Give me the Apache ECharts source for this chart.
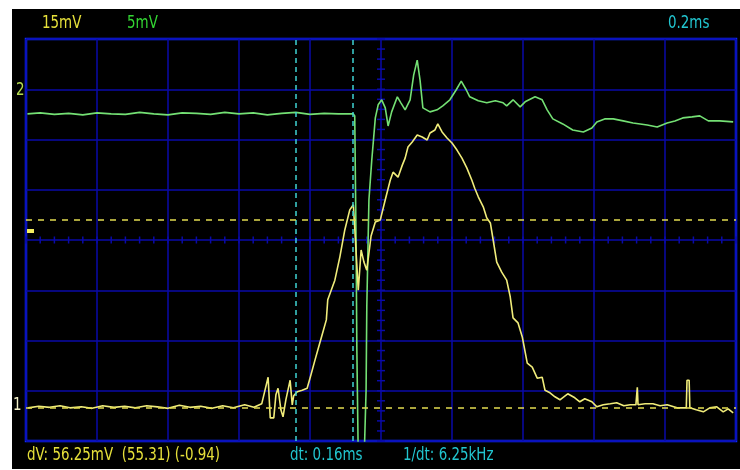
<!DOCTYPE html>
<html>
<head>
<meta charset="utf-8">
<script src="https://cdn.jsdelivr.net/npm/echarts@6/dist/echarts.min.js"></script>
<style>
    html, body {margin: 0; padding: 0; background: #fff;}
    #scope {width: 740px; height: 470px;}
</style>
</head>
<body>
<div id="scope"></div>
<script>
// units: x in divisions (0.2ms/div), y in divisions (ch1 15mV/div, ch2 5mV/div)
let ch1Time = [0.03, 0.18, 0.33, 0.48, 0.62, 0.78, 0.93, 1.08, 1.24, 1.39, 1.54, 1.70, 1.85, 2.00, 2.16, 2.31, 2.46, 2.62, 2.77, 2.92, 3.08, 3.21, 3.32,
    3.41, 3.44, 3.49, 3.52, 3.55, 3.59, 3.62, 3.66, 3.72, 3.75, 3.77, 3.82, 3.89, 3.96, 4.00, 4.07, 4.11, 4.17, 4.23, 4.25, 4.35, 4.42, 4.49, 4.56, 4.61,
    4.63, 4.68, 4.72, 4.76, 4.80, 4.86, 4.92, 4.99, 5.06, 5.13, 5.17, 5.24, 5.30, 5.34, 5.38, 5.44, 5.51, 5.58, 5.65, 5.69, 5.76, 5.80, 5.86, 5.93,
    6.00, 6.07, 6.14, 6.21, 6.28, 6.32, 6.37, 6.44, 6.49, 6.54, 6.58, 6.63, 6.70, 6.77, 6.82, 6.86, 6.93, 6.99, 7.06, 7.13, 7.20, 7.27, 7.31, 7.38,
    7.45, 7.52, 7.63, 7.73, 7.80, 7.87, 7.97, 8.04, 8.13, 8.23, 8.32, 8.42, 8.51, 8.59, 8.61, 8.62, 8.72, 8.83, 8.93, 9.03, 9.17, 9.30, 9.31, 9.34,
    9.35, 9.44, 9.54, 9.63, 9.73, 9.82, 9.89, 9.96];
let ch1Value = [0.66, 0.69, 0.67, 0.70, 0.66, 0.68, 0.65, 0.70, 0.67, 0.69, 0.66, 0.70, 0.68, 0.65, 0.71, 0.67, 0.69, 0.65, 0.70, 0.66, 0.72, 0.67, 0.74,
    1.27, 0.46, 0.46, 0.92, 1.05, 0.62, 0.48, 0.82, 1.21, 0.72, 0.90, 0.98, 1.01, 1.05, 1.25, 1.61, 1.81, 2.11, 2.41, 2.81, 3.20, 3.66, 4.20, 4.60, 4.70,
    4.24, 3.00, 3.80, 3.56, 3.40, 4.08, 4.36, 4.40, 4.80, 5.19, 5.35, 5.25, 5.49, 5.63, 5.85, 5.95, 6.09, 6.05, 5.99, 6.13, 6.19, 6.31, 6.15, 6.03,
    5.93, 5.79, 5.63, 5.43, 5.19, 5.03, 4.86, 4.66, 4.44, 4.34, 4.00, 3.56, 3.36, 3.20, 2.87, 2.45, 2.35, 2.07, 1.55, 1.47, 1.25, 1.27, 1.01, 0.96,
    0.88, 0.82, 0.94, 0.86, 0.78, 0.84, 0.78, 0.68, 0.72, 0.74, 0.76, 0.70, 0.72, 0.72, 1.07, 0.72, 0.74, 0.74, 0.70, 0.72, 0.66, 0.66, 1.21, 1.21,
    0.66, 0.62, 0.58, 0.66, 0.68, 0.58, 0.64, 0.56];

let ch2Time = [0.02, 0.20, 0.40, 0.60, 0.80, 1.00, 1.20, 1.40, 1.60, 1.80, 2.00, 2.20, 2.40, 2.60, 2.80, 3.00, 3.20, 3.40, 3.60, 3.80, 4.00, 4.20, 4.40, 4.61,
    4.63, 4.65, 4.66, 4.68, 4.76, 4.77, 4.79, 4.80, 4.83, 4.87, 4.92, 4.96, 5.01, 5.06, 5.10, 5.15, 5.23, 5.28, 5.34, 5.41, 5.46, 5.51, 5.55, 5.59,
    5.69, 5.79, 5.87, 5.97, 6.06, 6.13, 6.20, 6.25, 6.37, 6.49, 6.61, 6.72, 6.77, 6.86, 6.96, 7.03, 7.17, 7.27, 7.34, 7.42, 7.56, 7.70, 7.85, 7.97,
    8.04, 8.15, 8.27, 8.41, 8.55, 8.75, 8.89, 9.03, 9.14, 9.25, 9.38, 9.49, 9.61, 9.77, 9.96];
let ch2Value = [6.51, 6.53, 6.50, 6.52, 6.49, 6.53, 6.51, 6.50, 6.54, 6.51, 6.49, 6.53, 6.52, 6.50, 6.54, 6.51, 6.53, 6.49, 6.52, 6.54, 6.50, 6.52, 6.51, 6.51,
    6.47, 3.80, 1.81, -0.38, -0.38, 0.02, 1.01, 2.67, 4.80, 5.59, 6.43, 6.69, 6.79, 6.63, 6.27, 6.55, 6.85, 6.73, 6.59, 6.79, 7.28, 7.58, 7.18, 6.63,
    6.55, 6.59, 6.67, 6.79, 6.99, 7.16, 6.99, 6.85, 6.77, 6.73, 6.77, 6.73, 6.67, 6.79, 6.65, 6.75, 6.85, 6.79, 6.59, 6.41, 6.31, 6.19, 6.15, 6.23,
    6.35, 6.41, 6.41, 6.37, 6.33, 6.29, 6.25, 6.33, 6.37, 6.43, 6.45, 6.47, 6.37, 6.37, 6.35];

let timeCursors = [3.80, 4.60];   // dt 0.16ms
let voltCursors = [4.41, 0.66];   // dV 56.25mV

let topLabels = ['15mV', '5mV', '0.2ms'];
let bottomLabels = ['dV: 56.25mV  (55.31) (-0.94)', 'dt: 0.16ms', '1/dt: 6.25kHz'];

let font = '"DejaVu Sans", sans-serif';
let myChart = echarts.init(document.getElementById('scope'));

function pairs(xs, ys){
    return xs.map((x, i) => [x, ys[i]]);
}

// small ticks along the centre cross
let centreTicks = [];
for(let i = 0; i <= 50; i++){ centreTicks.push([i * 0.2, 4, 0]); }
for(let j = 0; j <= 40; j++){ centreTicks.push([5, j * 0.2, 1]); }

function txt(x, y, text, color){
    // scope font is a narrow one, squeeze DejaVu
    return {type: 'group', x: x, y: y, scaleX: 0.79, z: 10,
        children: [{type: 'text', style: {text: text, fill: color, font: '17px ' + font}}]};
}

let options = {
    backgroundColor: '#fff',
    animation: false,
    graphic: [
        {type: 'rect', left: 12, top: 9, z: -10, shape: {width: 728, height: 460}, style: {fill: '#000'}},
        txt(42, 15, topLabels[0], '#e6e03a'),
        txt(127, 15, topLabels[1], '#33d633'),
        txt(668, 15, topLabels[2], '#22c6d0'),
        txt(27, 447, bottomLabels[0], '#e6e03a'),
        txt(290, 447, bottomLabels[1], '#22c6d0'),
        txt(403, 447, bottomLabels[2], '#22c6d0'),
        txt(16, 82, '2', '#b4dc50'),
        txt(13, 397, '1', '#f2f0c8'),
        {type: 'rect', left: 27, top: 229, z: 10, shape: {width: 7, height: 4}, style: {fill: '#f4ee60'}}
    ],
    grid: {
        left: 26,
        right: 4,
        top: 39,
        bottom: 29,
        show: true,
        borderColor: '#0c2cff',
        borderWidth: 2.5
    },
    xAxis: {
        type: 'value',
        min: 0,
        max: 10,
        interval: 1,
        axisLine: {show: false},
        axisTick: {show: false},
        axisLabel: {show: false},
        splitLine: {lineStyle: {color: '#0a0aa8', width: 1.5}}
    },
    yAxis: {
        type: 'value',
        min: 0,
        max: 8,
        interval: 1,
        axisLine: {show: false},
        axisTick: {show: false},
        axisLabel: {show: false},
        splitLine: {lineStyle: {color: '#0a0aa8', width: 1.5}}
    },
    series: [
        {
            type: 'custom',
            z: 1,
            silent: true,
            data: centreTicks,
            renderItem: (params, api) => {
                let p = api.coord([api.value(0), api.value(1)]);
                let vertical = api.value(2) === 0;
                let h = vertical ? 3.5 : 0, w = vertical ? 0 : 4;
                return {
                    type: 'line',
                    shape: {x1: p[0] - w, y1: p[1] - h, x2: p[0] + w, y2: p[1] + h},
                    style: {stroke: '#0a0aa8', lineWidth: 1.5}
                };
            }
        },
        {
            name: 'cursors',
            type: 'line',
            data: [],
            markLine: {
                silent: true,
                symbol: 'none',
                label: {show: false},
                data: [
                    {xAxis: timeCursors[0], lineStyle: {color: '#3fd2d2', type: [5, 4], width: 1.5}},
                    {xAxis: timeCursors[1], lineStyle: {color: '#3fd2d2', type: [5, 4], width: 1.5}},
                    {yAxis: voltCursors[0], lineStyle: {color: '#e2dc50', type: [6, 6], width: 1.5}},
                    {yAxis: voltCursors[1], lineStyle: {color: '#e2dc50', type: [6, 6], width: 1.5}}
                ]
            }
        },
        {
            name: 'ch1',
            type: 'line',
            z: 4,
            symbol: 'none',
            lineStyle: {color: '#f0ec7a', width: 1.6},
            data: pairs(ch1Time, ch1Value)
        },
        {
            name: 'ch2',
            type: 'line',
            z: 3,
            symbol: 'none',
            lineStyle: {color: '#74e074', width: 1.6},
            data: pairs(ch2Time, ch2Value)
        }
    ]
};
myChart.setOption(options);
</script>
</body>
</html>
